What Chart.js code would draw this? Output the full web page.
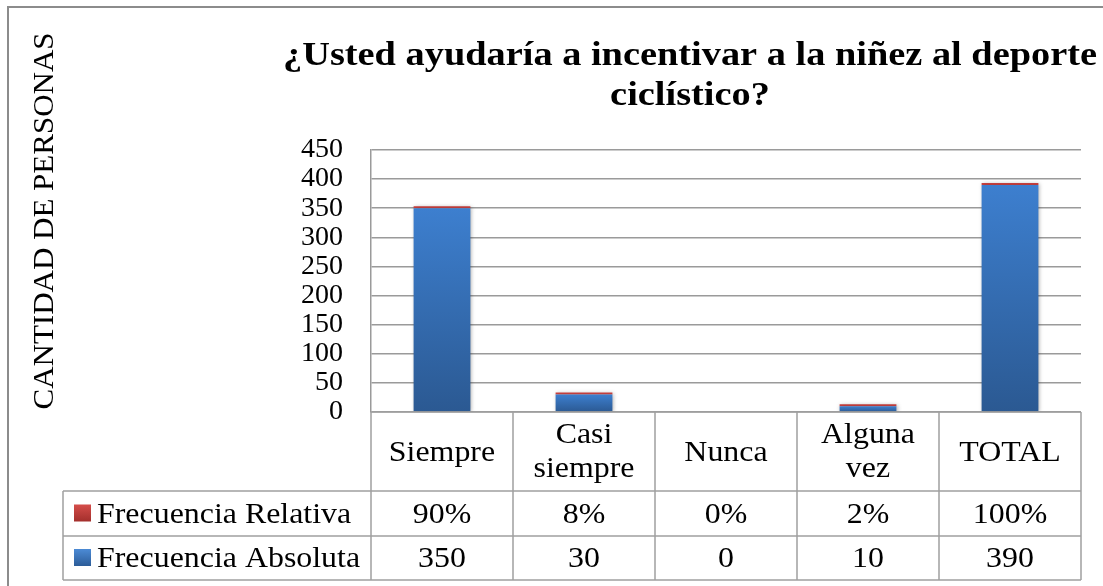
<!DOCTYPE html>
<html>
<head>
<meta charset="utf-8">
<script src="https://cdn.jsdelivr.net/npm/chart.js@4"></script>
<style>
html,body{margin:0;padding:0;background:#fff;}
#wrap{width:1103px;height:586px;position:relative;}
canvas{display:block;}
</style>
</head>
<body>
<div id="wrap"><canvas id="c" width="1103" height="586"></canvas></div>
<script>
// ---- data ----
const categories = [['Siempre'], ['Casi', 'siempre'], ['Nunca'], ['Alguna', 'vez'], ['TOTAL']];
const absoluta = [350, 30, 0, 10, 390];
const relativa = [0.90, 0.08, 0, 0.02, 1.00];
const relativaLabels = ['90%', '8%', '0%', '2%', '100%'];
const absolutaLabels = ['350', '30', '0', '10', '390'];
const yMin = 0, yMax = 450, yStep = 50;
const titleLines = ['¿Usted ayudaría a incentivar a la niñez al deporte', 'ciclístico?'];
const yTitle = 'CANTIDAD DE PERSONAS';
const seriesNames = ['Frecuencia Relativa', 'Frecuencia Absoluta'];

const SERIF = '"Liberation Serif", "Times New Roman", Times, serif';

function drawText(ctx, text, x, y, font, sx, align) {
  ctx.save();
  ctx.font = font;
  ctx.textBaseline = 'alphabetic';
  ctx.textAlign = align || 'center';
  ctx.translate(x, y);
  ctx.scale(sx, 1);
  ctx.fillStyle = '#000';
  ctx.fillText(text, 0, 0);
  ctx.restore();
}

function barGradient(ctx, c1, c2) {
  const chart = ctx.chart;
  const y = chart.scales && chart.scales.y;
  if (!y || !chart.chartArea) return c1;
  const ds = chart.data.datasets[ctx.datasetIndex];
  let base = 0;
  for (let d = 0; d < ctx.datasetIndex; d++) base += chart.data.datasets[d].data[ctx.dataIndex] || 0;
  const top = y.getPixelForValue(base + (ds.data[ctx.dataIndex] || 0));
  const bot = y.getPixelForValue(base);
  if (!isFinite(top) || !isFinite(bot) || Math.abs(bot - top) < 1) return c1;
  const g = chart.ctx.createLinearGradient(0, top, 0, bot);
  g.addColorStop(0, c1);
  g.addColorStop(1, c2);
  return g;
}

const framePlugin = {
  id: 'framePlugin',
  beforeDraw(chart) {
    const ctx = chart.ctx;
    ctx.save();
    ctx.fillStyle = '#fff';
    ctx.fillRect(0, 0, chart.width, chart.height);
    ctx.restore();
  },
  beforeDatasetsDraw(chart) {
    const ctx = chart.ctx;
    ctx.save();
    ctx.shadowColor = 'rgba(0,0,0,0.35)';
    ctx.shadowBlur = 4;
    ctx.shadowOffsetX = 1;
    ctx.shadowOffsetY = 1;
  },
  afterDatasetsDraw(chart) {
    chart.ctx.restore();
  },
  afterDraw(chart) {
    const ctx = chart.ctx;
    const xs = chart.scales.x;
    const area = chart.chartArea;
    const n = categories.length;
    const step = (area.right - area.left) / n;

    // outer frame (top and left visible)
    ctx.save();
    ctx.strokeStyle = '#8c8c8c';
    ctx.lineWidth = 2;
    ctx.beginPath();
    ctx.moveTo(8, chart.height);
    ctx.lineTo(8, 7);
    ctx.lineTo(chart.width, 7);
    ctx.stroke();
    ctx.restore();

    // title
    ctx.save();
    ctx.font = 'bold 34px ' + SERIF;
    const w1 = ctx.measureText(titleLines[0]).width;
    ctx.restore();
    const tsx = 814 / w1;
    drawText(ctx, titleLines[0], 690, 65, 'bold 34px ' + SERIF, tsx, 'center');
    drawText(ctx, titleLines[1], 690, 105, 'bold 34px ' + SERIF, tsx, 'center');

    // y axis title
    ctx.save();
    ctx.font = '30px ' + SERIF;
    const wy = ctx.measureText(yTitle).width;
    ctx.translate(53, 221);
    ctx.rotate(-Math.PI / 2);
    ctx.scale(377 / wy, 1);
    ctx.textAlign = 'center';
    ctx.textBaseline = 'alphabetic';
    ctx.fillStyle = '#000';
    ctx.fillText(yTitle, 0, 0);
    ctx.restore();

    // data table
    const rowTop = area.bottom;
    const row1 = 491, row2 = 536, row3 = 580;
    const legLeft = 63;
    ctx.save();
    ctx.strokeStyle = '#a0a0a0';
    ctx.lineWidth = 1.5;
    ctx.beginPath();
    ctx.moveTo(area.left, rowTop); ctx.lineTo(area.right, rowTop);
    ctx.moveTo(legLeft, row1); ctx.lineTo(area.right, row1);
    ctx.moveTo(legLeft, row2); ctx.lineTo(area.right, row2);
    ctx.moveTo(legLeft, row3); ctx.lineTo(area.right, row3);
    for (let i = 0; i <= n; i++) {
      const x = area.left + i * step;
      ctx.moveTo(x, rowTop); ctx.lineTo(x, row3);
    }
    ctx.moveTo(legLeft, row1); ctx.lineTo(legLeft, row3);
    ctx.stroke();
    ctx.restore();

    const tf = '29px ' + SERIF;
    const sx = 1.1;
    const c0 = (rowTop + row1) / 2;
    for (let i = 0; i < n; i++) {
      const cx = xs.getPixelForValue(i);
      const lines = categories[i];
      if (lines.length === 1) {
        drawText(ctx, lines[0], cx, c0 + 9.5, tf, sx, 'center');
      } else {
        drawText(ctx, lines[0], cx, c0 - 8.5, tf, sx, 'center');
        drawText(ctx, lines[1], cx, c0 + 25.5, tf, sx, 'center');
      }
      drawText(ctx, relativaLabels[i], cx, (row1 + row2) / 2 + 9, tf, sx, 'center');
      drawText(ctx, absolutaLabels[i], cx, (row2 + row3) / 2 + 9, tf, sx, 'center');
    }

    const keys = [
      {y: (row1 + row2) / 2, c1: '#d24b48', c2: '#a32f2c', name: seriesNames[0]},
      {y: (row2 + row3) / 2, c1: '#4a88d2', c2: '#2c5c98', name: seriesNames[1]}
    ];
    keys.forEach(k => {
      const g = ctx.createLinearGradient(0, k.y - 8, 0, k.y + 8);
      g.addColorStop(0, k.c1); g.addColorStop(1, k.c2);
      ctx.fillStyle = g;
      ctx.fillRect(74, k.y - 9, 17, 17);
      drawText(ctx, k.name, 97, k.y + 9, tf, sx, 'left');
    });
  }
};

function init() {
  new Chart(document.getElementById('c'), {
    type: 'bar',
    data: {
      labels: categories.map(c => c.join(' ')),
      datasets: [
        {
          label: seriesNames[1],
          data: absoluta,
          backgroundColor: (c) => barGradient(c, '#3d7fcf', '#2b5992'),
          borderWidth: 0,
          barPercentage: 0.4,
          categoryPercentage: 1.0
        },
        {
          label: seriesNames[0],
          data: relativa,
          backgroundColor: (c) => (c.raw === 0 ? 'rgba(0,0,0,0)' : '#c9403f'),
          borderWidth: 0,
          minBarLength: 2,
          barPercentage: 0.4,
          categoryPercentage: 1.0
        }
      ]
    },
    options: {
      responsive: false,
      animation: false,
      events: [],
      layout: {padding: {top: 150, bottom: 174, left: 0, right: 22}},
      plugins: {legend: {display: false}, tooltip: {enabled: false}, title: {display: false}},
      scales: {
        x: {stacked: true, display: false},
        y: {
          stacked: true,
          min: yMin,
          max: yMax,
          afterFit: (s) => { s.width = 371; },
          ticks: {
            stepSize: yStep,
            autoSkip: false,
            color: '#000',
            padding: 28,
            font: {family: SERIF, size: 28}
          },
          grid: {color: '#9a9a9a', lineWidth: 1.5, drawTicks: false},
          border: {display: true, color: '#9a9a9a', width: 1.5}
        }
      }
    },
    plugins: [framePlugin]
  });
}

const fontLoads = [
  document.fonts.load('29px "Liberation Serif"'),
  document.fonts.load('bold 34px "Liberation Serif"')
];
Promise.all(fontLoads).then(init, init);
</script>
</body>
</html>
